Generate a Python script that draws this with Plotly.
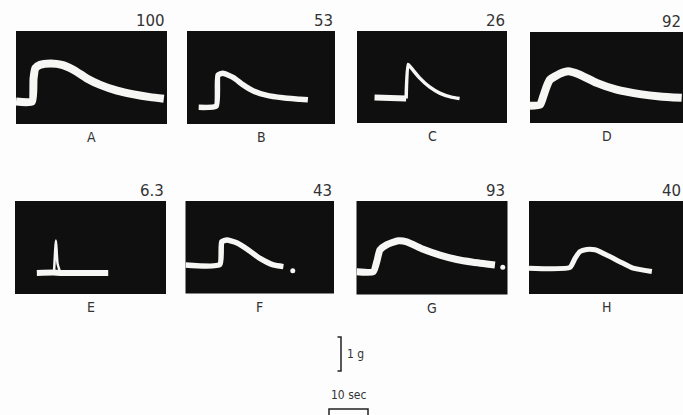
import plotly.graph_objects as go

W, H = 683, 415
PX_PER_SEC = 3.9   # 10 sec bar is ~39 px wide
PX_PER_G = 34.0    # 1 g bar is ~34 px tall

labels = ["A", "B", "C", "D", "E", "F", "G", "H"]
peak_values = ["100", "53", "26", "92", "6.3", "43", "93", "40"]

# traces: time (s) from panel left edge, force (g) from panel bottom
a_t = [0, 4.1, 4.5, 4.96, 6.2, 8.8, 11.8, 14.8, 18.2, 21.6, 25.9, 30.2, 34.4, 37.9]
a_g = [0.66, 0.66, 1.34, 1.64, 1.74, 1.78, 1.74, 1.59, 1.34, 1.15, 0.98, 0.87, 0.79, 0.74]

b_t = [3.0, 7.5, 7.95, 9.2, 11.8, 14.4, 16.9, 20.3, 24.6, 28.9, 31.0]
b_g = [0.49, 0.53, 1.44, 1.49, 1.37, 1.15, 0.98, 0.85, 0.77, 0.73, 0.71]

c_base_t = [4.5, 12.6]
c_base_g = [0.75, 0.72]
c_t = [12.6, 13.1, 13.9, 16.1, 18.6, 21.2, 24.2, 26.3]
c_g = [0.72, 1.72, 1.62, 1.32, 1.06, 0.88, 0.76, 0.72]

d_t = [0, 2.6, 3.4, 4.3, 5.1, 7.7, 9.8, 12.8, 17.1, 22.2, 28.2, 33.3, 38.9]
d_g = [0.51, 0.54, 0.78, 1.08, 1.27, 1.45, 1.52, 1.42, 1.18, 0.98, 0.85, 0.78, 0.74]

e_base_t = [5.6, 9.8, 11.6, 23.9]
e_base_g = [0.62, 0.63, 0.62, 0.62]
e_t = [10.0, 10.5, 10.9, 11.6]
e_g = [0.63, 1.57, 0.9, 0.63]

f_t = [0, 8.8, 9.3, 10.6, 13.1, 16.1, 19.1, 22.5, 25.1]
f_g = [0.84, 0.85, 1.52, 1.57, 1.49, 1.28, 1.03, 0.84, 0.79]
f_dot_t = [27.5]
f_dot_g = [0.67]

g_t = [0, 4.3, 5.3, 6.0, 7.7, 10.7, 12.9, 17.1, 21.4, 25.7, 29.9, 35.5]
g_g = [0.67, 0.67, 1.01, 1.31, 1.46, 1.58, 1.55, 1.33, 1.16, 1.03, 0.95, 0.87]
g_dot_t = [37.5]
g_dot_g = [0.80]

h_t = [0, 10.5, 11.8, 13.1, 14.8, 16.9, 19.9, 23.3, 26.7, 31.5]
h_g = [0.76, 0.78, 1.05, 1.25, 1.31, 1.30, 1.15, 0.95, 0.76, 0.66]

# scale bars
bar_force_g = 1
bar_time_s = 10

# panel boxes in px: left, top, right, bottom
boxes = [
    (16, 31, 167, 124), (187, 31, 335, 124), (357, 31, 507, 123), (530, 32, 683, 123),
    (15, 201, 166, 294), (185.5, 201, 334, 293.5), (356.5, 201, 507.5, 294.5), (529, 201, 683, 294),
]

# segments per panel: (t, g, width, mode)
segments = [
    [(a_t, a_g, 8, "lines")],
    [(b_t, b_g, 5.5, "lines")],
    [(c_base_t, c_base_g, 6, "lines"), (c_t, c_g, 3.5, "lines")],
    [(d_t, d_g, 8, "lines")],
    [(e_base_t, e_base_g, 6, "lines"), (e_t, e_g, 2.5, "lines")],
    [(f_t, f_g, 5.5, "lines"), (f_dot_t, f_dot_g, 5, "markers")],
    [(g_t, g_g, 7, "lines"), (g_dot_t, g_dot_g, 5, "markers")],
    [(h_t, h_g, 5, "lines")],
]

TRACE = "#f6f6f4"
PANEL = "#0f0f0f"
PAPER = "#fdfdfd"
INK = "#333333"
COND = "DejaVu Sans Condensed, Liberation Sans Narrow, sans-serif"

fig = go.Figure()
layout = {}
shapes = []
annotations = []

for i, (box, segs) in enumerate(zip(boxes, segments)):
    n = i + 1
    xa = "x" if n == 1 else f"x{n}"
    ya = "y" if n == 1 else f"y{n}"
    l, t, r, b = box
    layout["xaxis" if n == 1 else f"xaxis{n}"] = dict(
        domain=[l / W, r / W], range=[0, (r - l) / PX_PER_SEC], visible=False,
        anchor=ya, fixedrange=True)
    layout["yaxis" if n == 1 else f"yaxis{n}"] = dict(
        domain=[1 - b / H, 1 - t / H], range=[0, (b - t) / PX_PER_G], visible=False,
        anchor=xa, fixedrange=True)
    shapes.append(dict(type="rect", xref=f"{xa} domain", yref=f"{ya} domain",
                       x0=0, x1=1, y0=0, y1=1, fillcolor=PANEL, line_width=0, layer="below"))
    for tt, gg, w, mode in segs:
        if mode == "lines":
            fig.add_trace(go.Scatter(x=tt, y=gg, mode="lines", xaxis=xa, yaxis=ya,
                                     line=dict(color=TRACE, width=w, shape="spline", smoothing=0.5),
                                     hoverinfo="skip", showlegend=False))
        else:
            fig.add_trace(go.Scatter(x=tt, y=gg, mode="markers", xaxis=xa, yaxis=ya,
                                     marker=dict(color=TRACE, size=w),
                                     hoverinfo="skip", showlegend=False))
    annotations.append(dict(text=peak_values[i], xref="paper", yref="paper",
                            x=r / W, y=1 - (t - 10) / H, xanchor="right", yanchor="middle",
                            showarrow=False,
                            font=dict(family="DejaVu Sans", size=15, color=INK)))
    annotations.append(dict(text=labels[i], xref="paper", yref="paper",
                            x=(l + r) / 2 / W, y=1 - (b + 13) / H, xanchor="center", yanchor="middle",
                            showarrow=False, font=dict(family=COND, size=14, color=INK)))

# overlay axis covering the whole figure for scale bars
layout["xaxis9"] = dict(domain=[0, 1], range=[0, W / PX_PER_SEC], visible=False,
                        anchor="y9", fixedrange=True)
layout["yaxis9"] = dict(domain=[0, 1], range=[0, H / PX_PER_G], visible=False,
                        anchor="x9", fixedrange=True)

# 1 g bar: ']' shape
gx = 341 / PX_PER_SEC
gy0 = (H - 371) / PX_PER_G
tick = 3.5 / PX_PER_SEC
fig.add_trace(go.Scatter(x=[gx - tick, gx, gx, gx - tick],
                         y=[gy0, gy0, gy0 + bar_force_g, gy0 + bar_force_g],
                         mode="lines", xaxis="x9", yaxis="y9",
                         line=dict(color="#222", width=1.5), hoverinfo="skip", showlegend=False))
annotations.append(dict(text=f"{bar_force_g} g", xref="x9", yref="y9",
                        x=gx + 4 / PX_PER_SEC, y=gy0 + bar_force_g / 2, xanchor="left", yanchor="middle",
                        showarrow=False, font=dict(family=COND, size=12, color=INK)))

# 10 sec bar: open-bottom bracket
tx0 = 329 / PX_PER_SEC
ty = (H - 409) / PX_PER_G
fig.add_trace(go.Scatter(x=[tx0, tx0, tx0 + bar_time_s, tx0 + bar_time_s],
                         y=[-0.1, ty, ty, -0.1],
                         mode="lines", xaxis="x9", yaxis="y9",
                         line=dict(color="#222", width=1.5), hoverinfo="skip", showlegend=False))
annotations.append(dict(text=f"{bar_time_s} sec", xref="x9", yref="y9",
                        x=tx0 + bar_time_s / 2, y=(H - 395) / PX_PER_G, xanchor="center", yanchor="middle",
                        showarrow=False, font=dict(family=COND, size=12, color=INK)))

fig.update_layout(**layout)
fig.update_layout(width=W, height=H, margin=dict(l=0, r=0, t=0, b=0),
                  paper_bgcolor=PAPER, plot_bgcolor="rgba(0,0,0,0)",
                  shapes=shapes, annotations=annotations, showlegend=False)

fig.write_html("out.html", config={"displayModeBar": False},
               post_script="document.body.style.margin='0';document.body.style.padding='0';"
                           "document.body.style.overflow='hidden';")
